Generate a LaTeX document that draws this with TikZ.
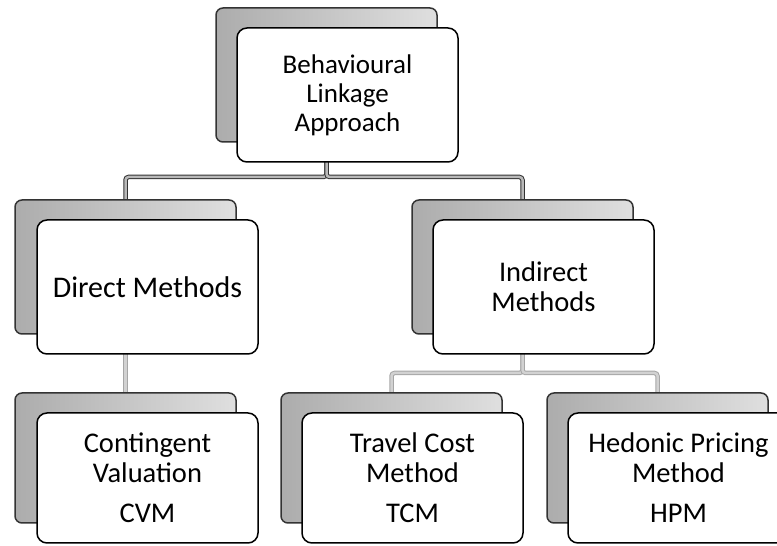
\documentclass[tikz,border=0pt]{standalone}
\usepackage{fontspec}
\setmainfont{Carlito}
\usetikzlibrary{positioning,backgrounds}

\begin{document}
\begin{tikzpicture}
  [x=1pt,y=1pt,
   shadowbox/.style={rectangle,rounded corners=7pt,minimum width=221pt,minimum height=134pt,
     anchor=north west,inner sep=0pt,outer sep=0pt,draw=black!80,line width=1.5pt,
     left color=gray!65,right color=gray!25},
   cardbox/.style={rectangle,rounded corners=10pt,minimum width=221pt,minimum height=134pt,
     outer sep=0pt,draw=black,line width=1.5pt,fill=white,align=center,
     font=\fontsize{28.5}{30}\selectfont},
   link/.style={draw=black!80,line width=1pt,double=gray!55,double distance=2.5pt,rounded corners=3pt},
   sublink/.style={draw=gray!70,line width=1pt,double=gray!35,double distance=2.5pt,rounded corners=3pt}]

  \useasboundingbox (0,0) rectangle (777,546);

  \node[shadowbox] (approachB) at (216,538) {};
  \node[cardbox,font=\fontsize{27}{29}\selectfont] (approach) [below right=20pt and 21pt of approachB.north west] {Behavioural\\Linkage\\Approach};

  \node[shadowbox] (directB)   at (15,346)  {};
  \node[cardbox,font=\fontsize{30}{30}\selectfont] (direct) [below right=20pt and 22pt of directB.north west] {Direct Methods};
  \node[shadowbox] (indirectB) at (412,346) {};
  \node[cardbox]   (indirect)  [below right=20pt and 21pt of indirectB.north west] {Indirect\\Methods};

  \node[shadowbox,minimum height=130pt] (cvmB) at (15,153)  {};
  \node[cardbox,minimum height=130pt]   (cvm)  [below right=20pt and 22pt of cvmB.north west] {Contingent\\Valuation\\[10pt]CVM};
  \node[shadowbox,minimum height=130pt] (tcmB) at (281,153) {};
  \node[cardbox,minimum height=130pt]   (tcm)  [below right=20pt and 21pt of tcmB.north west] {Travel Cost\\Method\\[10pt]TCM};
  \node[shadowbox,minimum height=130pt] (hpmB) at (547,153) {};
  \node[cardbox,minimum height=130pt]   (hpm)  [below right=20pt and 21pt of hpmB.north west] {Hedonic Pricing\\Method\\[10pt]HPM};

  \begin{scope}[on background layer]
    \draw[link] (approachB.south) -- ++(0,-35) -| (directB.north);
    \draw[link] (approachB.south) -- ++(0,-35) -| (indirectB.north);
    \draw[sublink] (directB.south) -- (cvmB.north);
    \draw[sublink] (indirectB.south) -- ++(0,-39) -| (tcmB.north);
    \draw[sublink] (indirectB.south) -- ++(0,-39) -| (hpmB.north);
  \end{scope}
\end{tikzpicture}
\end{document}
